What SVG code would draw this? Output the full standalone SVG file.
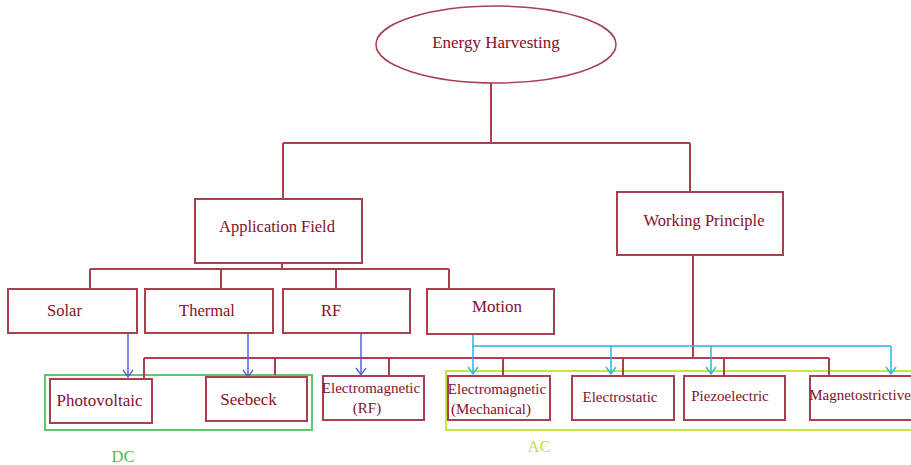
<svg xmlns="http://www.w3.org/2000/svg" width="911" height="465" viewBox="0 0 911 465">
<defs>
<style>
.box{fill:#fff;stroke:#A8404F;stroke-width:2}
.t{font-family:"Liberation Serif","Times New Roman",serif;fill:#85102A;text-anchor:middle}
.f17{font-size:17px}.f16{font-size:16.5px}.f15{font-size:15px}
.con{fill:none;stroke:#A8404F;stroke-width:2}
.blue{fill:none;stroke:#5060D8;stroke-width:1.5}
.cyan{fill:none;stroke:#2FB2EA;stroke-width:1.5}
</style>
<marker id="ab" markerUnits="userSpaceOnUse" markerWidth="12" markerHeight="10" refX="6" refY="8" orient="0" viewBox="0 0 12 10">
<path d="M1,1 L6,8 L11,1" fill="none" stroke="#5060D8" stroke-width="1.3"/>
</marker>
<marker id="ac" markerUnits="userSpaceOnUse" markerWidth="12" markerHeight="10" refX="6" refY="8" orient="0" viewBox="0 0 12 10">
<path d="M1,1 L6,8 L11,1" fill="none" stroke="#2FB2EA" stroke-width="1.3"/>
</marker>
</defs>
<rect width="911" height="465" fill="#fff"/>
<g id="groups">
<rect id="dc-box" x="45" y="375" width="267" height="55" fill="none" stroke="#5CC96A" stroke-width="2"/>
<rect id="ac-box" x="446" y="371" width="470" height="59" fill="none" stroke="#C8E64A" stroke-width="2"/>
<text class="t f16" x="123" y="462" style="fill:#4CBB4C">DC</text>
<text class="t f16" x="539" y="451.5" style="fill:#C2DE40">AC</text>
</g>
<g id="connectors">
<path class="con" d="M491,83 V143 M283,143 H690 M283,143 V199 M690,143 V192"/>
<path class="con" d="M282,263 V269 M90,269 H449 M90,269 V289 M221,269 V289 M336,269 V289 M449,269 V289"/>
<path class="con" d="M693,255 V358 M144,358 H829 M144,358 V378 M275,358 V375 M389,358 V376 M503,358 V376 M623,358 V376 M724,358 V376 M829,358 V376"/>
<path class="blue" d="M128,334 V377" marker-end="url(#ab)"/>
<path class="blue" d="M248,334 V377" marker-end="url(#ab)"/>
<path class="blue" d="M361,334 V375" marker-end="url(#ab)"/>
<path class="cyan" d="M473,334 V346 H891"/>
<path class="cyan" d="M473,346 V374" marker-end="url(#ac)"/>
<path class="cyan" d="M611,346 V374" marker-end="url(#ac)"/>
<path class="cyan" d="M711,346 V374" marker-end="url(#ac)"/>
<path class="cyan" d="M891,346 V374" marker-end="url(#ac)"/>
</g>
<g id="energy-harvesting">
<ellipse cx="496" cy="44.5" rx="120" ry="38.5" fill="#fff" stroke="#A8404F" stroke-width="1.5"/>
<text class="t f17" x="496" y="48">Energy Harvesting</text>
</g>
<g id="application-field">
<rect class="box" x="195" y="199" width="167" height="64"/>
<text class="t f16" x="277" y="232">Application Field</text>
</g>
<g id="working-principle">
<rect class="box" x="617" y="192" width="166" height="63"/>
<text class="t f16" x="704" y="226">Working Principle</text>
</g>
<g id="solar">
<rect class="box" x="8" y="289" width="129" height="44"/>
<text class="t f16" x="64.5" y="316">Solar</text>
</g>
<g id="thermal">
<rect class="box" x="145" y="289" width="128" height="44"/>
<text class="t f16" x="207" y="316">Thermal</text>
</g>
<g id="rf">
<rect class="box" x="283" y="289" width="127" height="44"/>
<text class="t f16" x="331" y="316">RF</text>
</g>
<g id="motion">
<rect class="box" x="427" y="289" width="127" height="45"/>
<text class="t f17" x="497" y="312">Motion</text>
</g>
<g id="photovoltaic">
<rect class="box" x="50" y="379" width="102" height="44"/>
<text class="t f17" x="99.5" y="406">Photovoltaic</text>
</g>
<g id="seebeck">
<rect class="box" x="206" y="377" width="101" height="44"/>
<text class="t f17" x="248.5" y="404.5">Seebeck</text>
</g>
<g id="electromagnetic-rf">
<rect class="box" x="323" y="376" width="101" height="44"/>
<text class="t f15" x="371" y="393">Electromagnetic</text>
<text class="t f15" x="367" y="413">(RF)</text>
</g>
<g id="electromagnetic-mech">
<rect class="box" x="448" y="376" width="102" height="44"/>
<text class="t f15" x="497" y="394">Electromagnetic</text>
<text class="t f15" x="491" y="414">(Mechanical)</text>
</g>
<g id="electrostatic">
<rect class="box" x="572" y="376" width="102" height="44"/>
<text class="t f15" x="620" y="402">Electrostatic</text>
</g>
<g id="piezoelectric">
<rect class="box" x="684" y="376" width="101" height="44"/>
<text class="t f15" x="730" y="400.5">Piezoelectric</text>
</g>
<g id="magnetostrictive">
<rect class="box" x="810" y="376" width="102" height="44"/>
<text class="t f15" x="860" y="400">Magnetostrictive</text>
</g>
</svg>
